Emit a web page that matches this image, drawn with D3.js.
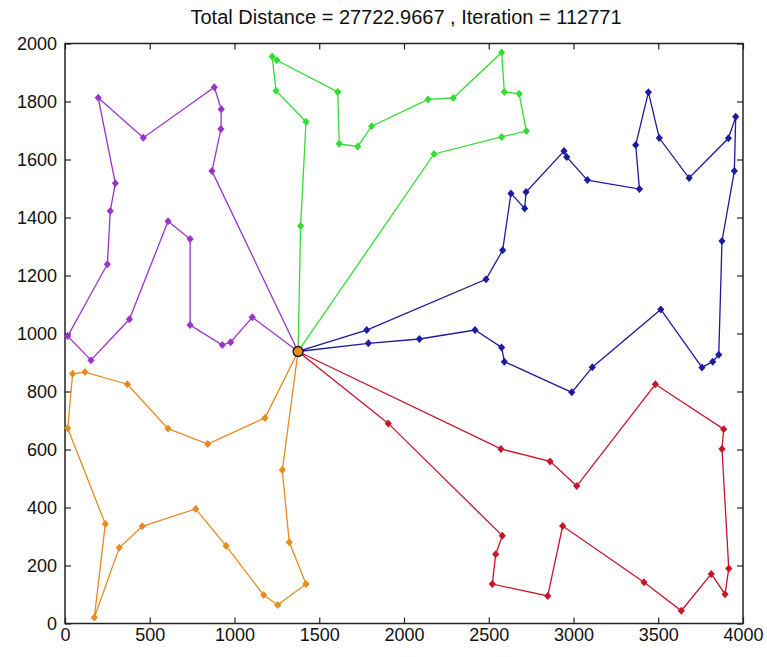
<!DOCTYPE html>
<html>
<head>
<meta charset="utf-8">
<script src="https://cdn.jsdelivr.net/npm/d3@7"></script>
<style>
  body { margin: 0; background: #fff; }
  text { font-family: "Liberation Sans", Arial, sans-serif; fill: #111; }
</style>
</head>
<body>
<svg id="chart" width="767" height="657"></svg>
<script>
// depot where every salesman starts and ends
var depot = [1375, 938];

// routes, in visiting order (depot left out)
var purpleRoute = [[1105,1056],[977,970],[928,960],[738,1029],[738,1326],[608,1387],[380,1049],
  [153,908],[16,991],[250,1239],[267,1422],[297,1518],[196,1813],[462,1675],[881,1849],
  [922,1773],[920,1705],[867,1560]];
var greenRoute = [[1390,1371],[1422,1730],[1245,1837],[1222,1955],[1250,1942],[1609,1833],
  [1618,1654],[1727,1645],[1809,1715],[2142,1807],[2291,1812],[2576,1969],[2592,1833],
  [2679,1827],[2722,1698],[2576,1678],[2177,1619]];
var blueRoute = [[1780,1012],[2484,1187],[2582,1287],[2631,1483],[2712,1431],[2720,1488],
  [2944,1629],[2960,1609],[3082,1529],[3389,1498],[3367,1650],[3442,1832],[3506,1674],
  [3682,1536],[3914,1673],[3957,1747],[3949,1560],[3876,1319],[3857,927],[3821,903],
  [3758,883],[3515,1083],[3111,884],[2990,797],[2592,903],[2576,952],[2419,1012],
  [2091,981],[1790,966]];
var orangeRoute = [[1180,709],[842,619],[608,672],[368,825],[118,867],[45,861],[16,673],
  [238,343],[173,21],[320,261],[456,335],[771,395],[950,268],[1172,98],[1255,64],
  [1422,136],[1323,280],[1282,529]];
var redRoute = [[1907,690],[2580,303],[2541,239],[2521,136],[2848,95],[2936,336],[3416,142],
  [3636,44],[3813,171],[3894,101],[3916,190],[3876,602],[3886,670],[3483,825],[3019,474],
  [2862,559],[2572,602]];

var routeColors = ["#9933cc", "#33dd33", "#1c1c9c", "#e88b1e", "#c8152a"];
var xTicks = [0, 500, 1000, 1500, 2000, 2500, 3000, 3500, 4000];
var yTicks = [0, 200, 400, 600, 800, 1000, 1200, 1400, 1600, 1800, 2000];
var totalDistance = "27722.9667", iteration = "112771";

var svg = d3.select("#chart");
var margin = {top: 43.5, right: 24, bottom: 33.5, left: 65},
    width = 767 - margin.left - margin.right,
    height = 657 - margin.top - margin.bottom;

var x = d3.scaleLinear().domain([0, 4000]).range([0, width]);
var y = d3.scaleLinear().domain([0, 2000]).range([height, 0]);

var g = svg.append("g").attr("transform", "translate(" + margin.left + "," + margin.top + ")");

// title
svg.append("text")
  .attr("x", 406)
  .attr("y", 24)
  .attr("text-anchor", "middle")
  .style("font-size", "20px")
  .text("Total Distance = " + totalDistance + " , Iteration = " + iteration);

// axes, ticks pointing inward on all sides like matlab
var fmt = d3.format("d");
function styleAxis(sel) {
  sel.select(".domain").remove();
  sel.selectAll("line").attr("stroke", "#222").attr("stroke-width", 1.2);
  sel.selectAll("text").style("font-size", "18px");
}
g.append("g").attr("transform", "translate(0," + height + ")")
  .call(d3.axisBottom(x).tickValues(xTicks).tickFormat(fmt).tickSizeInner(-6).tickSizeOuter(0).tickPadding(5))
  .call(styleAxis);
g.append("g")
  .call(d3.axisLeft(y).tickValues(yTicks).tickFormat(fmt).tickSizeInner(-6).tickSizeOuter(0).tickPadding(8))
  .call(styleAxis);
g.append("g")
  .call(d3.axisTop(x).tickValues(xTicks).tickSizeInner(-6).tickSizeOuter(0).tickFormat(""))
  .call(styleAxis);
g.append("g").attr("transform", "translate(" + width + ",0)")
  .call(d3.axisRight(y).tickValues(yTicks).tickSizeInner(-6).tickSizeOuter(0).tickFormat(""))
  .call(styleAxis);

g.append("rect")
  .attr("width", width).attr("height", height)
  .attr("fill", "none").attr("stroke", "#222").attr("stroke-width", 1.5);

var routes = [purpleRoute, greenRoute, blueRoute, orangeRoute, redRoute];
var line = d3.line().x(function(d) { return x(d[0]); }).y(function(d) { return y(d[1]); });
var diamond = "M0,-4L3.6,0L0,4L-3.6,0Z";

routes.forEach(function(r, i) {
  var full = [depot].concat(r, [depot]);
  g.append("path")
    .datum(full)
    .attr("d", line)
    .attr("fill", "none")
    .attr("stroke", routeColors[i])
    .attr("stroke-width", 1.3);
  g.append("g").selectAll("path")
    .data(r)
    .enter()
    .append("path")
    .attr("d", diamond)
    .attr("transform", function(d) { return "translate(" + x(d[0]) + "," + y(d[1]) + ")"; })
    .attr("fill", routeColors[i]);
});

// depot marker
g.append("circle")
  .attr("cx", x(depot[0])).attr("cy", y(depot[1]))
  .attr("r", 5)
  .attr("fill", "#e88b1e")
  .attr("stroke", "#111").attr("stroke-width", 1.3);
</script>
</body>
</html>
